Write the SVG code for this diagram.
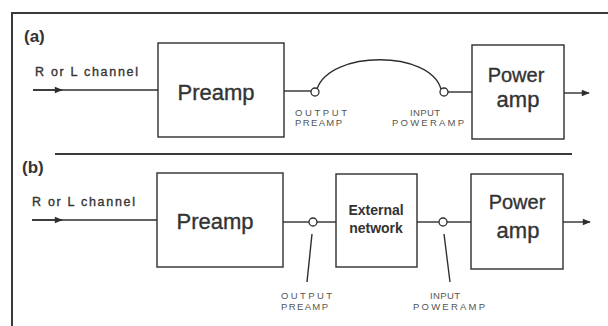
<svg xmlns="http://www.w3.org/2000/svg" width="608" height="326" viewBox="0 0 608 326">
<defs>
<style>
.ln{stroke:#2e2e2e;stroke-width:1.4;fill:none}
.frame{stroke:#3a3a3a;stroke-width:2;fill:none}
.box{stroke:#2e2e2e;stroke-width:1.4;fill:#fff}
.jack{stroke:#2e2e2e;stroke-width:1.3;fill:#fff}
text{font-family:"Liberation Sans",Arial,sans-serif;fill:#333}
.big{font-size:22px;stroke:#333;stroke-width:0.35}
.mid{font-size:20px;stroke:#333;stroke-width:0.35}
.ext{font-size:14px;font-weight:bold}
.ch{font-size:12.5px;stroke:#333;stroke-width:0.35}
.tag{font-size:17px;font-weight:bold}
.sm{font-size:9.5px;fill:#555}
</style>
<marker id="arr" viewBox="0 0 10 10" refX="9" refY="5" markerWidth="9" markerHeight="8" markerUnits="userSpaceOnUse" orient="auto">
<path d="M0,1 L10,5 L0,9 z" fill="#2e2e2e"/>
</marker>
</defs>
<rect width="608" height="326" fill="#fff"/>
<g id="frame">
<path class="frame" d="M12,326 V13 H608"/>
<line class="frame" x1="55" y1="154" x2="572" y2="154"/>
</g>
<g id="labels">
<text class="tag" x="24" y="42">(a)</text>
<text class="tag" x="22" y="173">(b)</text>
<text class="ch" x="35" y="76" textLength="103">R or L channel</text>
<text class="ch" x="32" y="206" textLength="103">R or L channel</text>
</g>
<g id="connectors">
<line class="ln" x1="33" y1="90" x2="158" y2="90"/>
<line class="ln" x1="33" y1="90" x2="62" y2="90" marker-end="url(#arr)"/>
<line class="ln" x1="284" y1="91" x2="311" y2="91"/>
<path class="ln" d="M317,89 C330,50 430,50 441,89"/>
<line class="ln" x1="448" y1="92" x2="472" y2="92"/>
<line class="ln" x1="564" y1="93" x2="589" y2="93" marker-end="url(#arr)"/>
<line class="ln" x1="32" y1="220" x2="157" y2="220"/>
<line class="ln" x1="32" y1="220" x2="62" y2="220" marker-end="url(#arr)"/>
<line class="ln" x1="283" y1="222" x2="309" y2="222"/>
<line class="ln" x1="317" y1="222" x2="336" y2="222"/>
<line class="ln" x1="417" y1="222" x2="439" y2="222"/>
<line class="ln" x1="447" y1="222" x2="471" y2="222"/>
<line class="ln" x1="563" y1="222" x2="590" y2="222" marker-end="url(#arr)"/>
<line class="ln" x1="312" y1="234" x2="307" y2="282"/>
<line class="ln" x1="444" y1="234" x2="450" y2="282"/>
</g>
<g id="preamp-a">
<rect class="box" x="158" y="43" width="126" height="94"/>
<text class="big" x="216" y="100" text-anchor="middle">Preamp</text>
</g>
<g id="jack-out-a">
<circle class="jack" cx="315" cy="92" r="4"/>
<text class="sm" x="295" y="116" textLength="52">OUTPUT</text>
<text class="sm" x="295" y="126" textLength="47">PREAMP</text>
</g>
<g id="jack-in-a">
<circle class="jack" cx="444" cy="92" r="4"/>
<text class="sm" x="410" y="116" textLength="30">INPUT</text>
<text class="sm" x="392" y="126" textLength="72">POWERAMP</text>
</g>
<g id="poweramp-a">
<rect class="box" x="472" y="45" width="92" height="94"/>
<text class="mid" x="516" y="82" text-anchor="middle">Power</text>
<text class="big" x="518" y="107" text-anchor="middle">amp</text>
</g>
<g id="preamp-b">
<rect class="box" x="157" y="173" width="126" height="94"/>
<text class="big" x="215" y="229" text-anchor="middle">Preamp</text>
</g>
<g id="jack-out-b">
<circle class="jack" cx="313" cy="222" r="4"/>
<text class="sm" x="281" y="299" textLength="51">OUTPUT</text>
<text class="sm" x="281" y="310" textLength="47">PREAMP</text>
</g>
<g id="external-network">
<rect class="box" x="336" y="174" width="81" height="93"/>
<text class="ext" x="376" y="215" text-anchor="middle">External</text>
<text class="ext" x="376" y="233" text-anchor="middle">network</text>
</g>
<g id="jack-in-b">
<circle class="jack" cx="443" cy="222" r="4"/>
<text class="sm" x="430" y="299" textLength="30">INPUT</text>
<text class="sm" x="413" y="310" textLength="72">POWERAMP</text>
</g>
<g id="poweramp-b">
<rect class="box" x="471" y="174" width="92" height="95"/>
<text class="mid" x="517" y="209" text-anchor="middle">Power</text>
<text class="big" x="518" y="238" text-anchor="middle">amp</text>
</g>
</svg>
